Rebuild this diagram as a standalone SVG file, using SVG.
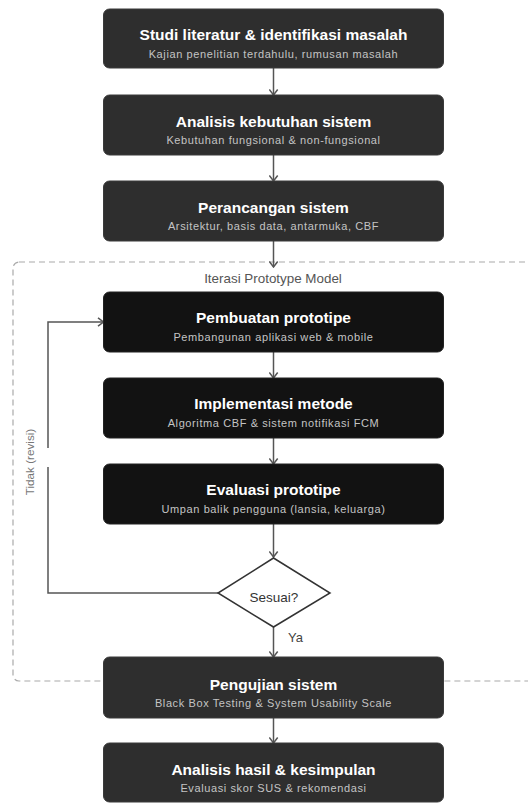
<svg xmlns="http://www.w3.org/2000/svg" width="528" height="803" viewBox="0 0 528 803">
<style>
.bx{fill:#2e2e2e;stroke:#3a3a3a;stroke-width:1}
.bk{fill:#121212;stroke:#222;stroke-width:1}
.t{font-family:"Liberation Sans",Arial,sans-serif;font-weight:bold;font-size:15.5px;fill:#fff;text-anchor:middle}
.s{font-family:"Liberation Sans",Arial,sans-serif;font-size:11px;letter-spacing:0.6px;fill:#c4c4c4;text-anchor:middle}
.c{fill:none;stroke:#555;stroke-width:1.5}
.lbl{font-family:"Liberation Sans",Arial,sans-serif;fill:#555}
</style>
<defs>
<marker id="ah" viewBox="0 0 8 10" refX="7" refY="5" markerWidth="8" markerHeight="10" markerUnits="userSpaceOnUse" orient="auto">
<path d="M1.5,0.8 L7,5 L1.5,9.2" fill="none" stroke="#555" stroke-width="1.5"/>
</marker>
</defs>
<rect width="528" height="803" fill="#fff"/>
<g id="group-iterasi">
<rect x="13" y="262" width="540" height="419" rx="6" fill="none" stroke="#aaa" stroke-width="1.2" stroke-dasharray="6 4"/>
<text class="lbl" x="273" y="282.5" font-size="13.4" text-anchor="middle">Iterasi Prototype Model</text>
</g>
<g id="connectors">
<line class="c" x1="273.5" y1="68" x2="273.5" y2="95" marker-end="url(#ah)"/>
<line class="c" x1="273.5" y1="155" x2="273.5" y2="181" marker-end="url(#ah)"/>
<line class="c" x1="273.5" y1="241" x2="273.5" y2="267" marker-end="url(#ah)"/>
<line class="c" x1="273.5" y1="352" x2="273.5" y2="378" marker-end="url(#ah)"/>
<line class="c" x1="273.5" y1="438" x2="273.5" y2="464" marker-end="url(#ah)"/>
<line class="c" x1="273.5" y1="524" x2="273.5" y2="557" marker-end="url(#ah)"/>
<line class="c" x1="273.5" y1="627" x2="273.5" y2="657" marker-end="url(#ah)"/>
<line class="c" x1="273.5" y1="718" x2="273.5" y2="743" marker-end="url(#ah)"/>
<polyline class="c" points="218,593 48,593 48,467"/>
<polyline class="c" points="48,448 48,322 103.5,322" marker-end="url(#ah)"/>
<text class="lbl" font-size="11.7" fill="#777" text-anchor="middle" transform="translate(34,462) rotate(-90)" style="fill:#777">Tidak (revisi)</text>
<text class="lbl" x="288" y="642" font-size="13" style="fill:#444">Ya</text>
</g>
<g id="n1">
<rect class="bx" x="103.5" y="9" width="340" height="59" rx="6"/>
<text class="t" x="273.5" y="40">Studi literatur &amp; identifikasi masalah</text>
<text class="s" x="273.5" y="57.5">Kajian penelitian terdahulu, rumusan masalah</text>
</g>
<g id="n2">
<rect class="bx" x="103.5" y="95" width="340" height="60" rx="6"/>
<text class="t" x="273.5" y="126.5">Analisis kebutuhan sistem</text>
<text class="s" x="273.5" y="144">Kebutuhan fungsional &amp; non-fungsional</text>
</g>
<g id="n3">
<rect class="bx" x="103.5" y="181" width="340" height="60" rx="6"/>
<text class="t" x="273.5" y="212.5">Perancangan sistem</text>
<text class="s" x="273.5" y="230">Arsitektur, basis data, antarmuka, CBF</text>
</g>
<g id="n4">
<rect class="bk" x="103.5" y="292" width="340" height="60" rx="6"/>
<text class="t" x="273.5" y="323">Pembuatan prototipe</text>
<text class="s" x="273.5" y="341">Pembangunan aplikasi web &amp; mobile</text>
</g>
<g id="n5">
<rect class="bk" x="103.5" y="378" width="340" height="60" rx="6"/>
<text class="t" x="273.5" y="409">Implementasi metode</text>
<text class="s" x="273.5" y="427">Algoritma CBF &amp; sistem notifikasi FCM</text>
</g>
<g id="n6">
<rect class="bk" x="103.5" y="464" width="340" height="60" rx="6"/>
<text class="t" x="273.5" y="495">Evaluasi prototipe</text>
<text class="s" x="273.5" y="513">Umpan balik pengguna (lansia, keluarga)</text>
</g>
<g id="d1">
<polygon points="273.5,558 330,593 273.5,627 218,593" fill="#fff" stroke="#333" stroke-width="1.5"/>
<text class="lbl" x="274" y="601.5" font-size="13.5" text-anchor="middle" style="fill:#333">Sesuai?</text>
</g>
<g id="n7">
<rect class="bx" x="103.5" y="657" width="340" height="61" rx="6"/>
<text class="t" x="273.5" y="689.5">Pengujian sistem</text>
<text class="s" x="273.5" y="707">Black Box Testing &amp; System Usability Scale</text>
</g>
<g id="n8">
<rect class="bx" x="103.5" y="743" width="340" height="59" rx="6"/>
<text class="t" x="273.5" y="774.5">Analisis hasil &amp; kesimpulan</text>
<text class="s" x="273.5" y="792">Evaluasi skor SUS &amp; rekomendasi</text>
</g>
</svg>
